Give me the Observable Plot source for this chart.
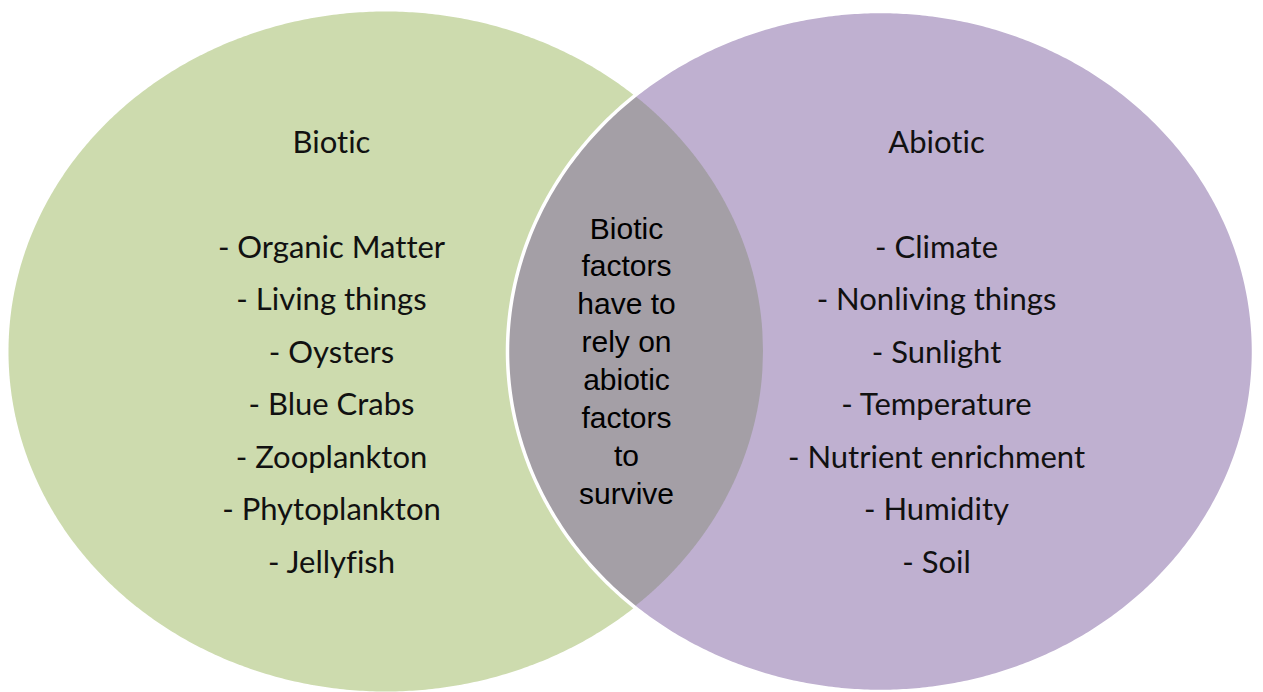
<!DOCTYPE html>
<html>
<head>
<meta charset="utf-8">
<script src="https://cdn.jsdelivr.net/npm/d3@7"></script>
<script src="https://cdn.jsdelivr.net/npm/@observablehq/plot@0.6"></script>
<style>
  html, body { margin: 0; padding: 0; background: #ffffff; }
  #chart svg { display: block; }
  #chart text { font-variant-ligatures: none; font-feature-settings: "liga" 0, "clig" 0; }
</style>
</head>
<body>
<div id="chart"></div>
<script>
// ---- data ----
const setNames = ["Biotic", "Abiotic"];
const bioticItems = ["- Organic Matter", "- Living things", "- Oysters", "- Blue Crabs", "- Zooplankton", "- Phytoplankton", "- Jellyfish"];
const abioticItems = ["- Climate", "- Nonliving things", "- Sunlight", "- Temperature", "- Nutrient enrichment", "- Humidity", "- Soil"];
const overlapLines = ["Biotic", "factors", "have to", "rely on", "abiotic", "factors", "to", "survive"];

// ---- layout (pixel space of a 1263 x 692 canvas) ----
const W = 1263, H = 692;
const ellipses = [
  {name: setNames[0], cx: 385.5, cy: 351, rx: 377.5, ry: 340, fill: "#cddbae"},
  {name: setNames[1], cx: 880, cy: 351, rx: 373, ry: 340, fill: "#bfb0d0"}
];
const overlapFill = "#a49fa6";
const listFont = "Lato, 'Open Sans', sans-serif";
const listSize = 31;
const titleBaseline = 152;
const listBaseline0 = 257, listStep = 52.5;
const titleX = [331, 936];
const centerX = 626, centerBaseline0 = 238, centerStep = 37.9, centerSize = 30;

function outline(e, n = 720) {
  return d3.range(n).map(i => {
    const t = (i / n) * 2 * Math.PI;
    return {x: e.cx + e.rx * Math.cos(t), y: e.cy + e.ry * Math.sin(t)};
  });
}
function halfHeight(e, x) {
  const u = (x - e.cx) / e.rx;
  return u >= 1 || u <= -1 ? 0 : e.ry * Math.sqrt(1 - u * u);
}
const [L, R] = ellipses;
const x0 = R.cx - R.rx, x1 = L.cx + L.rx;
const lens = d3.range(0, 401).map(i => {
  const x = x0 + (x1 - x0) * i / 400;
  return {
    x,
    top: Math.max(L.cy - halfHeight(L, x), R.cy - halfHeight(R, x)),
    bottom: Math.min(L.cy + halfHeight(L, x), R.cy + halfHeight(R, x))
  };
});

const titles = setNames.map((name, i) => ({text: name, x: titleX[i], y: titleBaseline}));
const items = [
  ...bioticItems.map((t, i) => ({text: t, x: titleX[0], y: listBaseline0 + i * listStep})),
  ...abioticItems.map((t, i) => ({text: t, x: titleX[1], y: listBaseline0 + i * listStep}))
];
const centerText = overlapLines.map((t, i) => ({text: t, x: centerX, y: centerBaseline0 + i * centerStep}));

const chart = Plot.plot({
  width: W,
  height: H,
  margin: 0,
  x: {domain: [0, W], range: [0, W], axis: null},
  y: {domain: [0, H], range: [0, H], axis: null},
  style: {background: "#ffffff"},
  marks: [
    Plot.line(outline(L), {x: "x", y: "y", curve: "linear-closed", fill: L.fill, stroke: "none"}),
    Plot.line(outline(R), {x: "x", y: "y", curve: "linear-closed", fill: R.fill, stroke: "none"}),
    Plot.areaY(lens, {x: "x", y1: "top", y2: "bottom", fill: overlapFill, curve: "linear"}),
    Plot.line(outline(R), {x: "x", y: "y", curve: "linear-closed", fill: "none", stroke: "#ffffff", strokeWidth: 3.5}),
    Plot.text(titles, {x: "x", y: "y", text: "text", fontSize: listSize, fontFamily: listFont, fill: "#111", lineAnchor: "bottom"}),
    Plot.text(items, {x: "x", y: "y", text: "text", fontSize: listSize, fontFamily: listFont, fill: "#111", lineAnchor: "bottom"}),
    Plot.text(centerText, {x: "x", y: "y", text: "text", fontSize: centerSize, fontFamily: "'Liberation Sans', Arial, sans-serif", fill: "#000", lineAnchor: "bottom"})
  ]
});
document.getElementById("chart").appendChild(chart);
</script>
</body>
</html>
